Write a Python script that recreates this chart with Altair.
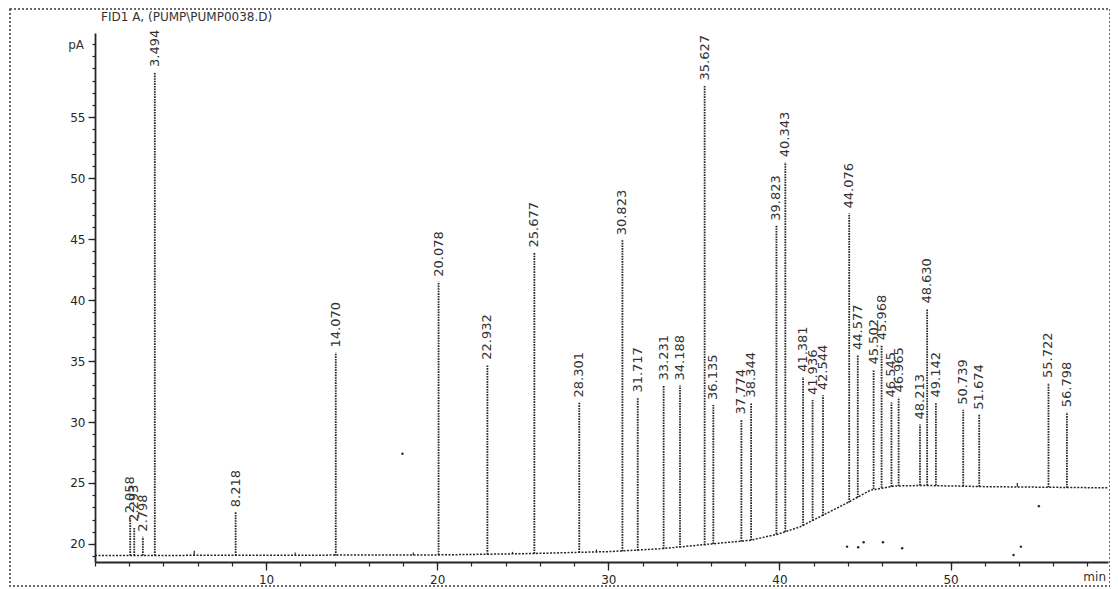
import altair as alt
import pandas as pd

# ---------------- data ----------------
title_text = "FID1 A, (PUMP\\PUMP0038.D)"
y_unit = "pA"
x_unit = "min"

peak_times = [2.058, 2.293, 2.798, 3.494, 8.218, 14.070, 20.078, 22.932, 25.677,
              28.301, 30.823, 31.717, 33.231, 34.188, 35.627, 36.135, 37.774,
              38.344, 39.823, 40.343, 41.381, 41.936, 42.544, 44.076, 44.577,
              45.502, 45.968, 46.545, 46.965, 48.213, 48.630, 49.142, 50.739,
              51.674, 55.722, 56.798]
peak_labels = ["2.058", "2.293", "2.798", "3.494", "8.218", "14.070", "20.078",
               "22.932", "25.677", "28.301", "30.823", "31.717", "33.231",
               "34.188", "35.627", "36.135", "37.774", "38.344", "39.823",
               "40.343", "41.381", "41.936", "42.544", "44.076", "44.577",
               "45.502", "45.968", "46.545", "46.965", "48.213", "48.630",
               "49.142", "50.739", "51.674", "55.722", "56.798"]
peak_apex = [22.1, 21.4, 20.6, 58.7, 22.6, 35.7, 41.5, 34.7, 43.9,
             31.6, 44.9, 32.0, 33.0, 33.0, 57.6, 31.4, 30.2,
             31.6, 46.1, 51.3, 33.7, 31.8, 32.2, 47.1, 35.5,
             34.3, 36.3, 31.6, 32.0, 29.8, 39.3, 31.6, 31.0,
             30.6, 33.2, 30.8]
peak_base = [19.05, 19.05, 19.05, 19.05, 19.05, 19.05, 19.1, 19.15, 19.2,
             19.3, 19.4, 19.45, 19.6, 19.7, 19.9, 20.0, 20.2,
             20.3, 20.8, 21.0, 21.5, 21.9, 22.3, 23.4, 23.8,
             24.5, 24.6, 24.7, 24.75, 24.8, 24.8, 24.8, 24.75,
             24.7, 24.65, 24.6]

small_times = [5.8, 11.7, 18.6, 24.4, 29.3, 53.9]
small_apex = [19.45, 19.3, 19.3, 19.35, 19.55, 25.0]
small_base = [19.05, 19.05, 19.08, 19.18, 19.35, 24.7]

base_t = [0.0, 20.0, 25.0, 30.0, 33.0, 36.0, 38.3, 39.9, 41.2, 42.6, 44.0,
          45.3, 46.7, 48.4, 52.0, 59.2]
base_v = [19.05, 19.1, 19.2, 19.37, 19.6, 20.0, 20.3, 20.8, 21.4, 22.4, 23.4,
          24.4, 24.75, 24.8, 24.7, 24.6]

speck_t = [17.97, 43.95, 44.6, 44.92, 46.05, 47.17, 53.68, 54.11, 55.16]
speck_v = [27.4, 19.78, 19.73, 20.14, 20.14, 19.65, 19.1, 19.78, 23.1]

x_major = [10, 20, 30, 40, 50]
x_minor = list(range(0, 60, 2))
y_major = [20, 25, 30, 35, 40, 45, 50, 55]
y_minor = list(range(19, 62))

X_DOMAIN = [0, 59.2]
Y_DOMAIN = [18.52, 61.9]
W, H = 1013, 529
INK = "#262626"
FONT = "DejaVu Sans"

# ---------------- tables ----------------
base_df = pd.DataFrame({"t": base_t, "v": base_v})
peaks_df = pd.DataFrame({"t": peak_times, "base": peak_base,
                         "apex": peak_apex, "label": peak_labels})
small_df = pd.DataFrame({"t": small_times, "base": small_base, "apex": small_apex})
speck_df = pd.DataFrame({"t": speck_t, "v": speck_v})

xs = alt.Scale(domain=X_DOMAIN, nice=False, zero=False)
ys = alt.Scale(domain=Y_DOMAIN, nice=False, zero=False)

minor_axes = alt.Chart(base_df).mark_line(opacity=0).encode(
    x=alt.X("t:Q", scale=xs, axis=alt.Axis(values=x_minor, labels=False, tickSize=4,
                                           domain=False, grid=False, orient="bottom",
                                           title=None, tickColor=INK, tickWidth=1.2)),
    y=alt.Y("v:Q", scale=ys, axis=alt.Axis(values=y_minor, labels=False, tickSize=3,
                                           domain=False, grid=False, orient="left",
                                           title=None, tickColor=INK, tickWidth=1.2)),
)

baseline = alt.Chart(base_df).mark_line(
    color=INK, strokeWidth=1.5, strokeDash=[2, 1.5]
).encode(
    x=alt.X("t:Q", scale=xs, axis=alt.Axis(values=x_major, format="d", tickSize=8,
                                           labelPadding=4, grid=False, orient="bottom",
                                           title=None, domainColor=INK, domainWidth=1.8,
                                           tickColor=INK, tickWidth=1.3,
                                           labelFont=FONT, labelFontSize=12,
                                           labelColor=INK)),
    y=alt.Y("v:Q", scale=ys, axis=alt.Axis(values=y_major, format="d", tickSize=7,
                                           labelPadding=3, grid=False, orient="left",
                                           title=None, domainColor=INK, domainWidth=1.8,
                                           tickColor=INK, tickWidth=1.3,
                                           labelFont=FONT, labelFontSize=12,
                                           labelColor=INK)),
)

peaks = alt.Chart(peaks_df).mark_rule(
    color=INK, strokeWidth=1.8, strokeDash=[1.6, 1]
).encode(
    x=alt.X("t:Q", scale=xs, axis=None),
    y=alt.Y("base:Q", scale=ys, axis=None),
    y2="apex:Q",
)

small_peaks = alt.Chart(small_df).mark_rule(color=INK, strokeWidth=1.2).encode(
    x=alt.X("t:Q", scale=xs, axis=None),
    y=alt.Y("base:Q", scale=ys, axis=None),
    y2="apex:Q",
)

labels = alt.Chart(peaks_df).mark_text(
    angle=270, align="left", baseline="middle", dx=5,
    font=FONT, fontSize=13, color="#333333"
).encode(
    x=alt.X("t:Q", scale=xs, axis=None),
    y=alt.Y("apex:Q", scale=ys, axis=None),
    text="label:N",
)

specks = alt.Chart(speck_df).mark_circle(size=6, color=INK, opacity=1).encode(
    x=alt.X("t:Q", scale=xs, axis=None),
    y=alt.Y("v:Q", scale=ys, axis=None),
)

frame = alt.Chart(pd.DataFrame({"k": [0]})).mark_rect(
    fill=None, stroke="#3a3a3a", strokeWidth=1.5, strokeDash=[2, 2]
).encode(
    x=alt.value(-85), x2=alt.value(W + 2), y=alt.value(-24), y2=alt.value(H + 24)
)

title = alt.Chart(pd.DataFrame({"s": [title_text]})).mark_text(
    align="left", baseline="middle", font=FONT, fontSize=12, color="#333333"
).encode(x=alt.value(6), y=alt.value(-16), text="s:N")

yunit = alt.Chart(pd.DataFrame({"s": [y_unit]})).mark_text(
    align="right", baseline="middle", font=FONT, fontSize=12, color="#333333"
).encode(x=alt.value(-11), y=alt.value(12), text="s:N")

xunit = alt.Chart(pd.DataFrame({"s": [x_unit]})).mark_text(
    align="right", baseline="top", font=FONT, fontSize=12, color="#333333"
).encode(x=alt.value(W - 2), y=alt.value(H + 10), text="s:N")

chart = alt.layer(
    minor_axes, baseline, small_peaks, peaks, labels, specks, frame, title, yunit, xunit
).resolve_axis(
    x="independent", y="independent"
).properties(
    width=W, height=H,
    autosize=alt.AutoSizeParams(type="none"),
    padding={"left": 87, "top": 25, "right": 2, "bottom": 27},
    background="white",
).configure_view(stroke=None)

chart.save("out.html", embed_options={"renderer": "svg", "actions": False})
